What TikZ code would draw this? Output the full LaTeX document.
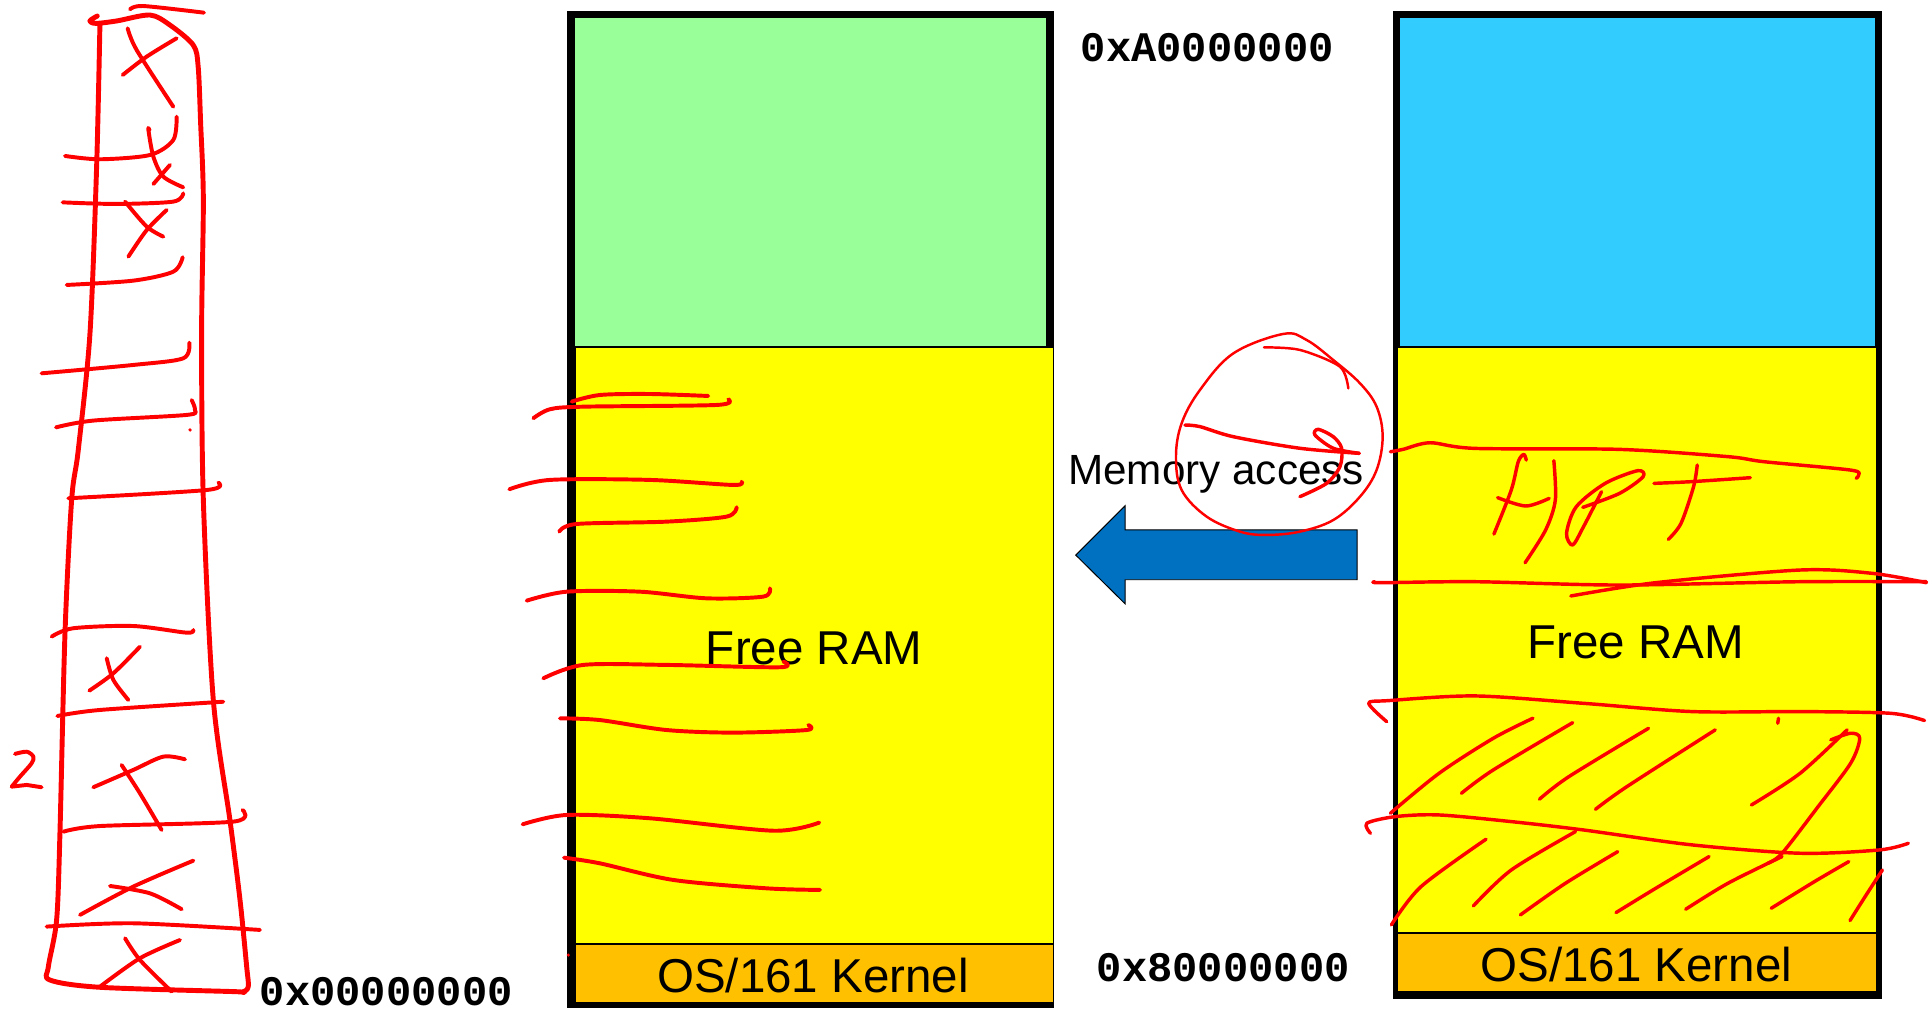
\documentclass[tikz,border=0pt]{standalone}
\usepackage{fontspec}
\setmainfont{Liberation Sans}
\newfontfamily\addrfont{Liberation Mono}
\definecolor{ramgreen}{HTML}{99FF99}
\definecolor{ramyellow}{HTML}{FFFF00}
\definecolor{kernorange}{HTML}{FFC000}
\definecolor{userblue}{HTML}{33CCFF}
\definecolor{arrowblue}{HTML}{0070C0}
\definecolor{inkred}{HTML}{FF0000}
\begin{document}
\begin{tikzpicture}[x=1pt,y=-1pt,
  frameline/.style={draw=black, line width=6pt, inner sep=0pt, outer sep=0pt, anchor=north west},
  region/.style={draw=black, line width=1.2pt, inner sep=0pt, outer sep=0pt, anchor=north west},
  lbl/.style={font=\fontsize{38.6}{40}\selectfont, inner sep=0pt, anchor=base},
  addr/.style={font=\addrfont\bfseries\fontsize{34.2}{36}\selectfont, inner sep=0pt, anchor=base west},
  ink/.style={draw=inkred, line width=3.2pt, line cap=round, line join=round},
  boldink/.style={draw=inkred, line width=4pt, line cap=round, line join=round},
  thinink/.style={draw=inkred, line width=2.8pt, line cap=round, line join=round},
  fineink/.style={draw=inkred, line width=2pt, line cap=round, line join=round},
]
\useasboundingbox (0,0) rectangle (1568,821);

% ---------- middle memory box ----------
\node[frameline, fill=ramgreen, minimum width=389pt, minimum height=804pt] (midframe) at (464,12) {};
\node[region, fill=ramyellow, minimum width=389pt, minimum height=485pt] (midfree) at (467,282) {};
\node[region, fill=kernorange, minimum width=389pt, minimum height=48pt] (midkern) at (467,767) {};
\node[lbl] (midfreetxt) at (661.5,539.5) {Free RAM};
\node[lbl] (midkerntxt) at (660.6,806) {OS/161 Kernel};

% ---------- right memory box ----------
\node[frameline, fill=userblue, minimum width=391.5pt, minimum height=797pt] (rightframe) at (1134.5,12) {};
\node[region, fill=ramyellow, minimum width=390pt, minimum height=476pt] (rightfree) at (1135,282) {};
\node[region, fill=kernorange, minimum width=390pt, minimum height=48pt] (rightkern) at (1135,758) {};
\node[lbl] (rightfreetxt) at (1329,535) {Free RAM};
\node[lbl] (rightkerntxt) at (1329.4,797) {OS/161 Kernel};

% ---------- addresses ----------
\node[addr] (addrtop) at (878,50) {0xA0000000};
\node[addr] (addrmid) at (891,797.5) {0x80000000};
\node[addr] (addrzero) at (211,816.5) {0x00000000};

% ---------- memory access arrow ----------
\node[lbl, font=\fontsize{34.3}{36}\selectfont] (memacc) at (988,394) {Memory access};
\draw[fill=arrowblue, draw=black, line width=0.8pt, line join=miter]
  (874,451) -- (914,411) -- (914,430.5) -- (1102.5,430.5) -- (1102.5,471)
  -- (914,471) -- (914,490.5) -- cycle;

% ---------- hand-drawn tower (left) ----------
\draw[boldink] plot[smooth, tension=0.5] coordinates {
  (79,13) (73,17) (78,19) (95,17) (121.9,12.2) (138,20.3) (157,36.6) (161,54.2)
  (163,100) (165.2,162.5) (163.8,270.8) (165.2,406) (173.3,568.7) (186.8,666.2)
  (195,731.2) (200.4,785.3) (201.7,801.6) (197,806) (189.6,805.6) (81.2,802.1)
  (40.6,796.2) (39.3,785.3) (46,747.4) (48.7,677) (52.8,514.5) (58.2,406.2)
  (63.6,365.6) (73.1,270.8) (78.5,135.4) (81.2,19)};
\draw[ink] plot[smooth] coordinates {(105.6,7.6) (116.4,4.9) (165.7,10.3)};
% rungs
\draw[ink] plot[smooth] coordinates {(52.8,126.7) (81.2,129.4) (121.9,125.9) (140.8,113.7) (143.5,94.8)};
\draw[ink] plot[smooth] coordinates {(50.9,164.4) (94.8,165.7) (140.8,163.8) (148.9,157.1)};
\draw[ink] plot[smooth] coordinates {(54.2,231.5) (108.3,228) (140.8,220.7) (148.4,209)};
\draw[ink] plot[smooth] coordinates {(33.8,303.3) (108.3,296.5) (148.9,291.1) (153.8,278.4)};
\draw[ink] plot[smooth] coordinates {(45.5,347.2) (75.8,341.7) (151.6,337.1) (158.4,333.1) (155.7,325)};
\fill[inkred] (154.4,349.3) circle (1.5pt);
\draw[ink] plot[smooth] coordinates {(55.5,404.8) (167.9,398.1) (177.4,392.1)};
\draw[ink] plot[smooth] coordinates {(42,517.2) (59.6,510.4) (108.3,508.6) (151.6,514) (157.1,511.8)};
\draw[ink] plot[smooth] coordinates {(46.6,581.7) (81.2,576.8) (181.4,570.1)};
\draw[ink] plot[smooth] coordinates {(51.5,675.7) (81.2,671.1) (189.6,667.5) (197.1,658)};
\draw[ink] plot[smooth] coordinates {(37.9,752.8) (108.3,750.1) (211.2,755.5)};
% crosses
\draw[ink] plot[smooth] coordinates {(103.7,23) (111,40.6) (140.8,86.7)};
\draw[ink] plot[smooth] coordinates {(99.7,60.9) (119.2,46) (143.5,31.1)};
\draw[ink] plot[smooth] coordinates {(121.5,106) (120.5,105.1) (124.6,127.3) (132.7,143.5) (148.9,152.2)};
\draw[ink] plot[smooth] coordinates {(124.6,149.5) (138.1,134)};
\draw[ink] plot[smooth] coordinates {(101.6,163.8) (119.2,184.1) (132.7,192.3)};
\draw[ink] plot[smooth] coordinates {(104.3,208.5) (119.2,186.9) (135.4,170.6)};
\draw[ink] plot[smooth] coordinates {(86.7,534.8) (92.1,552.4) (104.3,568.7)};
\draw[ink] plot[smooth] coordinates {(72.6,561.1) (92.1,547) (113.7,525.4)};
\draw[ink] plot[smooth] coordinates {(75.8,639.6) (108.3,625.5) (132.7,614.7) (150.3,616.9)};
\draw[ink] plot[smooth] coordinates {(98.8,621.5) (113.7,644.5) (131.3,674.3)};
\draw[ink] plot[smooth] coordinates {(65,743.3) (108.3,720.3) (157.1,699.2)};
\draw[ink] plot[smooth] coordinates {(89.4,719.8) (121.9,725.8) (147.6,738.7)};
\draw[ink] plot[smooth] coordinates {(81.2,801.6) (113.7,778.5) (146.2,763.7)};
\draw[ink] plot[smooth] coordinates {(101.6,762.3) (113.7,779.9) (139.5,805.6)};
% the "2"
\draw[ink] plot[smooth] coordinates {(12.2,612.5) (21.7,610.7) (27.1,614.7) (25.7,620.1) (16.2,631) (9.5,639.1)}
  -- (21.7,637.7) -- (33.8,639.6);

% ---------- strokes over the middle box ----------
\draw[ink] plot[smooth] coordinates {(464.4,326.3) (487.4,320.9) (528,320.1) (575.4,321.7)};
\draw[ink] plot[smooth] coordinates {(433.3,339.8) (446.8,332.5) (473.9,330.4) (582.2,329) (591.7,324.4)};
\draw[ink] plot[smooth] coordinates {(413.8,397.5) (446.8,389.9) (528,389.9) (595.8,394) (602.5,391.3)};
\draw[ink] plot[smooth] coordinates {(454.4,431.9) (468.5,425.7) (541.6,423.8) (590.4,419.7) (598.5,412.1)};
\draw[ink] plot[smooth] coordinates {(427.9,488) (460.4,480.7) (520,480.7) (574.1,486.1) (620.1,484.7) (625.5,478)};
\draw[ink] plot[smooth] coordinates {(441.4,551.1) (473.9,540.2) (541.6,540.2) (633.7,542.1) (636.4,537.5)};
\draw[ink] plot[smooth] coordinates {(454.9,583.6) (487.4,585) (541.6,593.1) (595.8,595.2) (655.3,593.1) (656.7,589)};
\draw[ink] plot[smooth] coordinates {(424.6,669.7) (460.4,662.1) (528,664.8) (628.3,674.9) (665.6,668.3)};
\draw[ink] plot[smooth] coordinates {(458.2,696.8) (487.4,701.4) (547,714.9) (622.8,721.7) (666.2,723)};
\fill[inkred] (461.7,775.9) circle (1.4pt);

% ---------- circle and arrow ----------
\draw[fineink] plot[smooth cycle, tension=0.6] coordinates {
  (1042.6,271.3) (1002,287.1) (974.9,316.8) (960,343.9) (955.4,371) (960,398.1)
  (980.3,419.7) (1007.4,431.9) (1029,434.6) (1056.1,431.9) (1083.2,422.5)
  (1104.9,403.5) (1118.4,381.8) (1123.3,354.8) (1118.4,330.4) (1104.9,311.4)
  (1083.2,292.5) (1061.5,276.2)};
\draw[fineink] plot[smooth] coordinates {(1026.9,282.2) (1056.1,284.3) (1088.6,297.9) (1095.4,315.5)};
\draw[thinink] plot[smooth] coordinates {(962.7,345.3) (974.9,346.6) (1002,354.8) (1056.1,364.2) (1104.3,368.3)};
\draw[thinink] plot[smooth] coordinates {(1104.3,368.3) (1083.2,364.2) (1068.3,353.4) (1071,348.8)
  (1083.2,354.8) (1090,364.2) (1088.6,379.1) (1077.8,392.7) (1056.1,403.5)};

% ---------- strokes over the right box ----------
\draw[thinink] plot[smooth] coordinates {(1129.6,367) (1139.8,365.1) (1161.8,359.7) (1198.5,364.3)
  (1315.8,365.1) (1403.8,371) (1433.1,375.1) (1503.5,381.9) (1510,386) (1508,388.6)};
% HOT
\draw[thinink] plot[smooth] coordinates {(1240,373.8) (1238,369.2) (1233.5,375) (1227.8,398.1) (1213.7,433.9)};
\draw[thinink] plot[smooth] coordinates {(1216.7,404.3) (1239.6,411.1) (1258.6,404.9)};
\draw[thinink] plot[smooth] coordinates {(1262.4,374.3) (1263.6,406.2) (1255.7,430.6) (1239,457.2)};
\draw[thinink] plot[smooth] coordinates {(1301.1,399.5) (1286.5,427.9) (1277.7,442.8) (1272.7,433.3)
  (1280.6,411.7) (1304.1,392.7) (1330.5,382.4) (1334.9,387.3) (1315.8,400.8) (1285.9,412.2)};
\draw[thinink] plot[smooth] coordinates {(1343.7,392.7) (1374.5,391.3) (1422,388.1)};
\draw[thinink] plot[smooth] coordinates {(1378.9,377.8) (1375.9,395.4) (1365.7,425.2) (1355.4,438.2)};
% band lines
\draw[thinink] plot[smooth] coordinates {(1117,472.6) (1122.2,473.4) (1198.5,472.6) (1315.8,475.3) (1462.5,472.6) (1565.1,472.6)};
\draw[thinink] plot[smooth] coordinates {(1276.2,484.2) (1345.1,473.4) (1462.5,463.1) (1521.1,465.8) (1565.1,473.4)};
\draw[thinink] plot[smooth] coordinates {(1126.6,586.3) (1112,571.4) (1128.1,569.2) (1198.5,565.4)
  (1286.5,571.4) (1374.5,578.1) (1462.5,578.1) (1535.8,579.5) (1563.6,585.4)};
\draw[thinink] plot[smooth] coordinates {(1113.4,677) (1110.5,668.8) (1134,663.4) (1169.2,662.1)
  (1227.8,667.5) (1286.5,674.3) (1374.5,686.4) (1462.5,693.2) (1527,690.5) (1550.4,685.1)};
% hatching, upper row
\draw[thinink] plot[smooth] coordinates {(1129.6,660.7) (1169.2,628.2) (1213.2,599.8) (1245.4,583.5)};
\draw[thinink] plot[smooth] coordinates {(1187.3,644.5) (1213.2,625.5) (1277.7,587.1)};
\draw[thinink] plot[smooth] coordinates {(1250.7,649.3) (1274.7,630.9) (1339.3,591.7)};
\draw[thinink] plot[smooth] coordinates {(1296.2,657.5) (1321.7,639.1) (1393.5,593)};
\draw[thinink] plot[smooth] coordinates {(1422.9,654) (1462.5,628.2) (1500.6,593)};
\draw[thinink] plot[smooth] coordinates {(1487.4,601.1) (1503.5,595.7) (1510.9,599.8) (1503.5,620.1)
  (1477.1,655.3) (1447.8,693.2) (1436.1,701.3)};
\draw[thinink] (1444.9,583.5) -- (1444.3,587.6);
% hatching, lower row
\draw[thinink] plot[smooth] coordinates {(1130.4,751.4) (1154.5,720.3) (1207.3,681.8)};
\draw[thinink] plot[smooth] coordinates {(1197,736) (1227.8,706.8) (1280,675.6)};
\draw[thinink] plot[smooth] coordinates {(1235.2,743.3) (1271.8,717.6) (1314.3,691.9)};
\draw[thinink] plot[smooth] coordinates {(1312.9,741.4) (1345.1,721.7) (1388.5,695.9)};
\draw[thinink] plot[smooth] coordinates {(1369.5,738.7) (1403.8,717.6) (1447.8,695.9)};
\draw[thinink] plot[smooth] coordinates {(1439,737.9) (1474.2,716.2) (1502,700)};
\draw[thinink] plot[smooth] coordinates {(1503,747.9) (1515.3,728.4) (1529.3,706.8)};
\end{tikzpicture}
\end{document}
